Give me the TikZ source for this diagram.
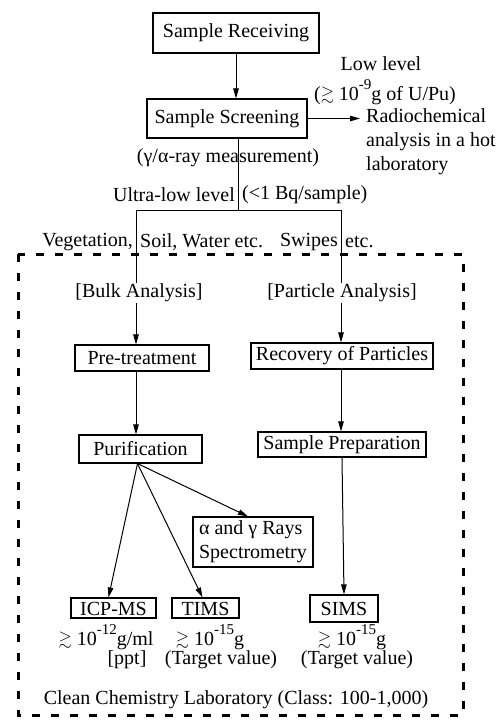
\documentclass[tikz,border=0pt]{standalone}
\usepackage{fontspec}
\usepackage{amssymb}
\usepackage{graphicx}
\setmainfont{Liberation Serif}
\usetikzlibrary{arrows.meta}
\newcommand\myup[1]{\raisebox{0.55em}{\fontsize{15}{15}\selectfont #1}}
\newcommand\mygs{\raisebox{0.05em}{\scalebox{0.85}{\(\gtrsim\)}}}
\begin{document}
\begin{tikzpicture}[x=1pt,y=-1pt,
  every node/.style={font=\fontsize{20}{24}\selectfont},
  box/.style={draw, line width=1.1pt, inner sep=0pt, fill=white},
  arr/.style={line width=1pt, -{Triangle[length=10pt,width=5.5pt]}},
  conn/.style={line width=1pt},
  frame/.style={line width=3pt, dash pattern=on 8pt off 11pt},
  lbl/.style={inner sep=1pt}]
\useasboundingbox (0,0) rectangle (501,724);
% boxes
\node[box, minimum width=166, minimum height=40] (recv) at (236,33) {Sample Receiving};
\node[box, minimum width=160, minimum height=39] (scr) at (227,118.5) {Sample Screening};
\node[box, minimum width=134, minimum height=26] (pre) at (142,358) {Pre-treatment};
\node[box, minimum width=182, minimum height=26] (rec) at (342,356) {Recovery of Particles};
\node[box, minimum width=123, minimum height=28] (pur) at (140.5,449) {Purification};
\node[box, minimum width=168, minimum height=25] (prep) at (342,444.5) {Sample Preparation};
\node[box, minimum width=120, minimum height=50, align=left] (ag) at (253,542) {α and γ Rays\\Spectrometry};
\node[box, minimum width=85, text height=15pt, text depth=0pt, inner ysep=2.5pt] (icp) at (113.5,608) {ICP-MS};
\node[box, minimum width=67, text height=15pt, text depth=0pt, inner ysep=2.5pt] (tims) at (205.5,608) {TIMS};
\node[box, minimum width=68, minimum height=27] (sims) at (344,608.5) {SIMS};
% side texts
\node[lbl] (low1) at (381,64) {Low level};
\node[lbl] (low2) at (385,92) {(\mygs\ 10\myup{-9}g of U/Pu)};
\node[lbl, anchor=west, align=left, inner sep=0pt] (radio) at (366,142) {Radiochemical\\analysis in a hot\\laboratory};
\node[lbl] (meas) at (228,158) {(γ/α-ray measurement)};
% coordinates of the split
\coordinate (split) at (238,210);
\coordinate (bl) at (136,210);
\coordinate (br) at (341,210);
% frame
\draw[frame] (18,254) rectangle (463,715);
% connectors
\draw[arr] (recv.south) -- (recv.south |- scr.north);
\draw[arr] (scr.east) -- ([xshift=-6pt]scr.east -| radio.west);
\draw[conn] (scr.south -| split) -- (split);
\draw[conn] (bl) -- (br);
\draw[arr] (bl) -- (bl |- pre.north);
\draw[arr] (br) -- (br |- rec.north);
\draw[arr] (bl |- pre.south) -- (bl |- pur.north);
\draw[arr] (br |- rec.south) -- (br |- prep.north);
\draw[arr] ([xshift=-3pt]pur.south) -- ([xshift=-5pt]icp.north);
\draw[arr] ([xshift=-3pt]pur.south) -- ([xshift=-3pt]tims.north);
\draw[arr] ([xshift=-3pt]pur.south) -- ([xshift=-5pt]ag.north);
\draw[arr] (prep.south) -- (sims.north);
% labels
\node[lbl, anchor=east] (ul1) at (236,195) {Ultra-low level};
\node[lbl, anchor=west] (ul2) at (241,195) {(<1 Bq/sample)};
\node[lbl, anchor=east] (veg) at (134,242) {Vegetation,};
\node[lbl, anchor=west] (soil) at (139,242) {Soil, Water etc.};
\node[lbl, anchor=east] (swp) at (339,242) {Swipes};
\node[lbl, anchor=west] (etc) at (344,242) {etc.};
\node[lbl, fill=white] (bulk) at (139,293) {[Bulk Analysis]};
\node[lbl, fill=white] (part) at (342,293) {[Particle Analysis]};
\node[lbl] (icpv) at (106,637) {\mygs\ 10\myup{-12}g/ml};
\node[lbl] (icpu) at (127,660) {[ppt]};
\node[lbl] (timsv) at (210,637) {\mygs\ 10\myup{-15}g};
\node[lbl] (timsu) at (221,660) {(Target value)};
\node[lbl] (simsv) at (352,637) {\mygs\ 10\myup{-15}g};
\node[lbl] (simsu) at (357,660) {(Target value)};
\node[lbl] (clean) at (236,700) {Clean Chemistry Laboratory (Class: 100-1,000)};
\end{tikzpicture}
\end{document}
